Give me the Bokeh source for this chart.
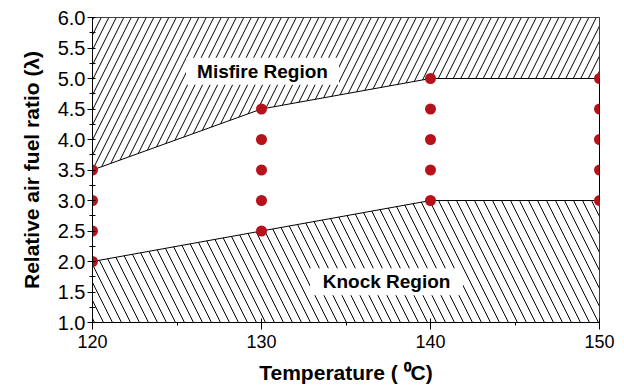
from bokeh.plotting import figure
from bokeh.models import Range1d, FixedTicker, PrintfTickFormatter
from bokeh.embed import file_html
from bokeh.resources import INLINE
from bokeh.core.properties import value

# Operating window boundaries (relative air fuel ratio vs. temperature)
temps = [120, 130, 140, 150]
misfire_limit = [3.5, 4.5, 5.0, 5.0]
knock_limit = [2.0, 2.5, 3.0, 3.0]

# Tested operating points
pt_temp = [120, 120, 120, 120,
           130, 130, 130, 130, 130,
           140, 140, 140, 140, 140,
           150, 150, 150, 150, 150]
pt_lambda = [2.0, 2.5, 3.0, 3.5,
             2.5, 3.0, 3.5, 4.0, 4.5,
             3.0, 3.5, 4.0, 4.5, 5.0,
             3.0, 3.5, 4.0, 4.5, 5.0]

# Region labels
region_names = ["Misfire Region", "Knock Region"]
region_x = [130.06, 137.4]
region_y = [5.12, 1.67]

x_ticks = [120, 130, 140, 150]
x_minor = [125, 135, 145]
y_ticks = [1.0, 1.5, 2.0, 2.5, 3.0, 3.5, 4.0, 4.5, 5.0, 5.5, 6.0]
y_minor = [1.25, 1.75, 2.25, 2.75, 3.25, 3.75, 4.25, 4.75, 5.25, 5.75]

X_MIN, X_MAX = 120, 150
Y_MIN, Y_MAX = 1.0, 6.0

FONT = "Liberation Sans"

p = figure(width=624, height=392,
           x_range=Range1d(X_MIN, X_MAX), y_range=Range1d(Y_MIN, Y_MAX),
           output_backend="svg", toolbar_location=None,
           min_border_left=92, min_border_right=25,
           min_border_top=17, min_border_bottom=70)

p.grid.visible = False
p.outline_line_color = "black"
p.outline_line_width = 1
p.background_fill_color = "white"
p.border_fill_color = "white"

# Hatched regions
p.varea(x=temps, y1=misfire_limit, y2=[Y_MAX] * len(temps),
        fill_color="white", hatch_pattern="/", hatch_scale=15,
        hatch_color="black", hatch_weight=1)
p.varea(x=temps, y1=[Y_MIN] * len(temps), y2=knock_limit,
        fill_color="white", hatch_pattern="\\", hatch_scale=18,
        hatch_color="black", hatch_weight=1)

p.line(temps, misfire_limit, line_color="black", line_width=1)
p.line(temps, knock_limit, line_color="black", line_width=1)

# White boxes behind the region labels
p.rect(x=region_x, y=region_y, width=153, height=27,
       width_units="screen", height_units="screen",
       fill_color="white", line_color=None)
p.text(x=region_x, y=region_y, text=region_names,
       text_align="center", text_baseline="middle",
       text_font=value(FONT), text_font_style="bold",
       text_font_size="19px", text_color="black")

p.scatter(pt_temp, pt_lambda, size=11, fill_color="#B5121B",
          line_color=None)

# Axes
xa = p.xaxis[0]
xa.ticker = FixedTicker(ticks=x_ticks, minor_ticks=x_minor)
xa.axis_label = "Temperature ( \u2070C)"
ya = p.yaxis[0]
ya.ticker = FixedTicker(ticks=y_ticks, minor_ticks=y_minor)
ya.formatter = PrintfTickFormatter(format="%.1f")
ya.axis_label = "Relative air fuel ratio (\u03bb)"

for ax in (xa, ya):
    ax.axis_line_color = "black"
    ax.major_tick_line_color = "black"
    ax.minor_tick_line_color = "black"
    ax.major_label_text_font = FONT
    ax.major_label_text_color = "black"
    ax.axis_label_text_font = FONT
    ax.axis_label_text_font_style = "bold"
    ax.axis_label_text_color = "black"
    ax.axis_label_text_font_size = "21px"

xa.major_tick_out = 7
xa.major_tick_in = 4
xa.minor_tick_out = 3
xa.minor_tick_in = 0
xa.major_label_text_font_size = "18px"
xa.major_label_standoff = 5
xa.axis_label_standoff = 10

ya.major_tick_out = 5
ya.major_tick_in = 3
ya.minor_tick_out = 3
ya.minor_tick_in = 3
ya.major_label_text_font_size = "20px"
ya.major_label_standoff = 2
ya.axis_label_standoff = 12

open("out.html", "w").write(file_html(p, INLINE))
